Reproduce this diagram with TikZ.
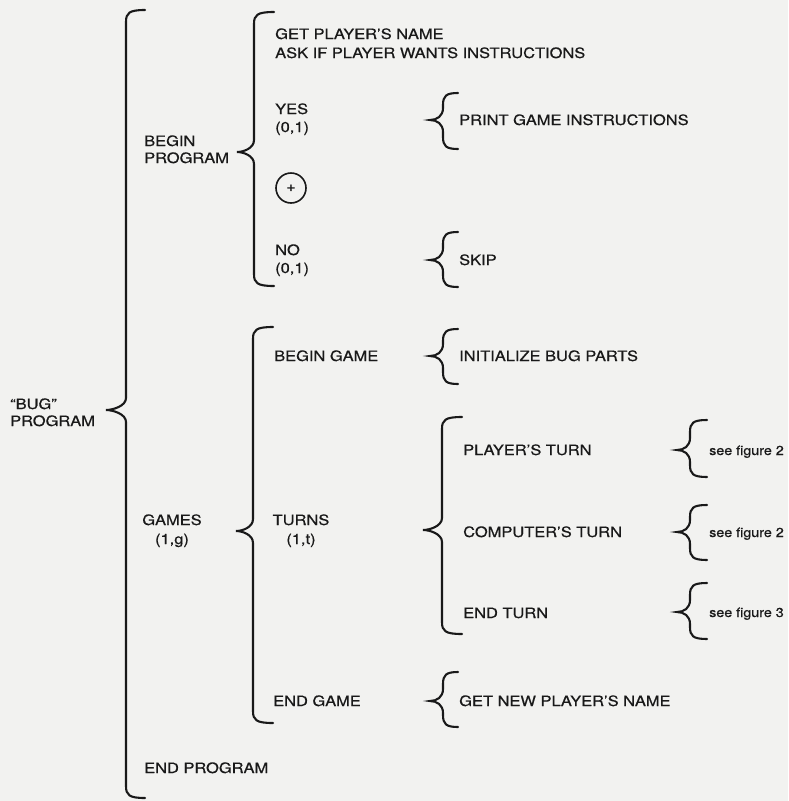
\documentclass[tikz,border=0pt]{standalone}
\usepackage{fontspec}
\setmainfont{TeX Gyre Heros}[FakeStretch=1.15,FakeBold=0.6]
\newfontfamily\smallfam{TeX Gyre Heros}[FakeStretch=1.1,FakeBold=0.7]
\definecolor{paper}{RGB}{242,242,240}
\definecolor{ink}{RGB}{25,25,25}
\newcommand{\drawbrace}[6]{%
  \draw[bracestyle] (#6,#2) .. controls ({#1+3},#2) and (#1,{#2+3}) .. (#1,{#2+12})
    -- (#1,{#3-12}) .. controls (#1,{#3-4}) and ({#5+7},#3) .. (#5,#3)
    .. controls ({#5+7},#3) and (#1,{#3+4}) .. (#1,{#3+12})
    -- (#1,{#4-12}) .. controls (#1,{#4-3}) and ({#1+3},#4) .. (#6,#4);}
\begin{document}
\begin{tikzpicture}[x=1pt,y=-1pt,
  bracestyle/.style={draw=ink,line width=2.1pt,line cap=round},
  lbl/.style={anchor=base west,inner sep=0pt,text=ink,font=\fontsize{14.3}{16}\selectfont},
  clbl/.style={anchor=base,inner sep=0pt,text=ink,font=\fontsize{14.3}{16}\selectfont},
  fig/.style={anchor=base west,inner sep=0pt,text=ink,font=\smallfam\fontsize{13}{16}\selectfont}]
\fill[paper] (0,0) rectangle (788,801);
\useasboundingbox (0,0) rectangle (788,801);
% braces
\drawbrace{126}{10}{410}{798}{106}{145}
\drawbrace{254}{12}{152}{286}{237}{274}
\drawbrace{253}{327}{531}{723}{236}{273}
\drawbrace{442}{417}{530}{634}{423}{462}
\drawbrace{443}{93}{120}{149}{430}{458}
\drawbrace{443}{232}{260}{287}{430}{458}
\drawbrace{443}{329}{356}{384}{430}{458}
\drawbrace{443}{672}{701}{727}{430}{458}
\drawbrace{690}{420}{450}{477}{677}{707}
\drawbrace{690}{505}{532}{560}{677}{707}
\drawbrace{690}{583}{612}{639}{677}{707}
% level 0
\node[lbl] (bugA) at (10,409) {“BUG”};
\node[lbl] (bugB) at (10,426) {PROGRAM};
% level 1
\node[lbl] (bpA) at (144,146) {BEGIN};
\node[lbl] (bpB) at (144,163) {PROGRAM};
\node[clbl] (gamA) at (172,525) {GAMES};
\node[clbl] (gamB) at (172,544) {(1,g)};
\node[lbl] (endprog) at (144,773) {END PROGRAM};
% level 2
\node[lbl] (getname) at (275,39) {GET PLAYER’S NAME};
\node[lbl] (ask) at (275,58) {ASK IF PLAYER WANTS INSTRUCTIONS};
\node[lbl] (yesA) at (275,114) {YES};
\node[lbl] (yesB) at (275,132) {(0,1)};
\node[draw=ink,circle,line width=1.6pt,minimum size=30pt,inner sep=0pt,text=ink,font=\fontsize{14}{14}\selectfont] (plus) at (291,188) {+};
\node[lbl] (noA) at (275,255) {NO};
\node[lbl] (noB) at (275,273) {(0,1)};
\node[lbl] (bgame) at (274,361) {BEGIN GAME};
\node[clbl] (turnsA) at (301,525) {TURNS};
\node[clbl] (turnsB) at (301,544) {(1,t)};
\node[lbl] (egame) at (273,706) {END GAME};
% level 3
\node[lbl] (print) at (459,125) {PRINT GAME INSTRUCTIONS};
\node[lbl] (skip) at (459,265) {SKIP};
\node[lbl] (init) at (459,361) {INITIALIZE BUG PARTS};
\node[lbl] (pturn) at (463,455) {PLAYER’S TURN};
\node[lbl] (cturn) at (463,537) {COMPUTER’S TURN};
\node[lbl] (eturn) at (463,618) {END TURN};
\node[lbl] (newname) at (459,706) {GET NEW PLAYER’S NAME};
% level 4
\node[fig] (fig1) at (709,455) {see figure 2};
\node[fig] (fig2) at (709,537) {see figure 2};
\node[fig] (fig3) at (709,617) {see figure 3};
\end{tikzpicture}
\end{document}
